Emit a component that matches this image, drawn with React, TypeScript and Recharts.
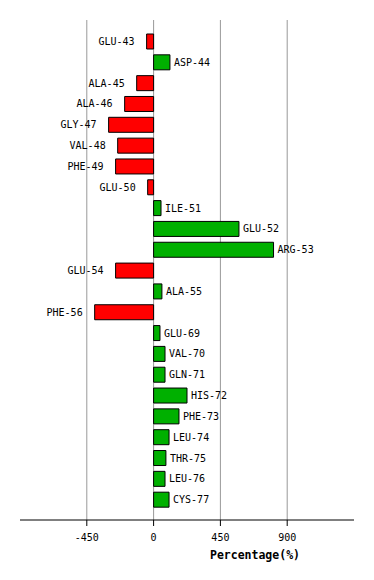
import React from 'react'
import { BarChart, Bar, XAxis, YAxis, CartesianGrid, LabelList, Cell } from 'recharts'

const residues = [
  'GLU-43', 'ASP-44', 'ALA-45', 'ALA-46', 'GLY-47', 'VAL-48', 'PHE-49', 'GLU-50',
  'ILE-51', 'GLU-52', 'ARG-53', 'GLU-54', 'ALA-55', 'PHE-56', 'GLU-69', 'VAL-70',
  'GLN-71', 'HIS-72', 'PHE-73', 'LEU-74', 'THR-75', 'LEU-76', 'CYS-77',
]

const percentages = [
  -47, 110, -114, -195, -303, -242, -256, -40,
  50, 575, 808, -256, 56, -397, 43, 77,
  77, 225, 171, 104, 83, 77, 104,
]

const xTicks = [-450, 0, 450, 900]

const data = residues.map((name, i) => ({ name, value: percentages[i] }))

const mono = '"DejaVu Sans Mono", monospace'

function BarLabel(props: any) {
  const { x, y, width, height, index } = props
  const v = percentages[index]
  const left = Math.min(x, x + width)
  const right = Math.max(x, x + width)
  const neg = v < 0
  return (
    <text
      x={neg ? left - 12 : right + 4}
      y={y + height / 2}
      dy="0.35em"
      textAnchor={neg ? 'end' : 'start'}
      fontFamily={mono}
      fontSize={10}
      fill="#000"
    >
      {residues[index]}
    </text>
  )
}

export default function App() {
  return (
    <div style={{ width: 366, height: 572 }}>
      <BarChart
        width={366}
        height={572}
        data={data}
        layout="vertical"
        margin={{ top: 12, right: 20, left: 12, bottom: 30 }}
      >
        <CartesianGrid horizontal={false} stroke="#999" syncWithTicks />
        <XAxis
          type="number"
          domain={[-900, 1350]}
          ticks={xTicks}
          allowDataOverflow
          height={30}
          axisLine={{ stroke: '#000' }}
          tickLine={{ stroke: '#000' }}
          tickSize={6}
          tickMargin={8}
          tick={{ fontSize: 10, fontFamily: mono, fill: '#000' }}
        />
        <YAxis type="category" dataKey="name" hide padding={{ top: 11, bottom: 10 }} />
        <Bar dataKey="value" barSize={15} stroke="#000" strokeWidth={1} isAnimationActive={false}>
          {data.map((d, i) => (
            <Cell key={i} fill={d.value < 0 ? '#ff0000' : '#00b000'} />
          ))}
          <LabelList dataKey="value" content={<BarLabel />} />
        </Bar>
        <text
          x={247}
          y={547}
          textAnchor="middle"
          dy="0.35em"
          fontFamily={mono}
          fontSize={11.5}
          fontWeight="bold"
          fill="#000"
        >
          Percentage(%)
        </text>
      </BarChart>
    </div>
  )
}
